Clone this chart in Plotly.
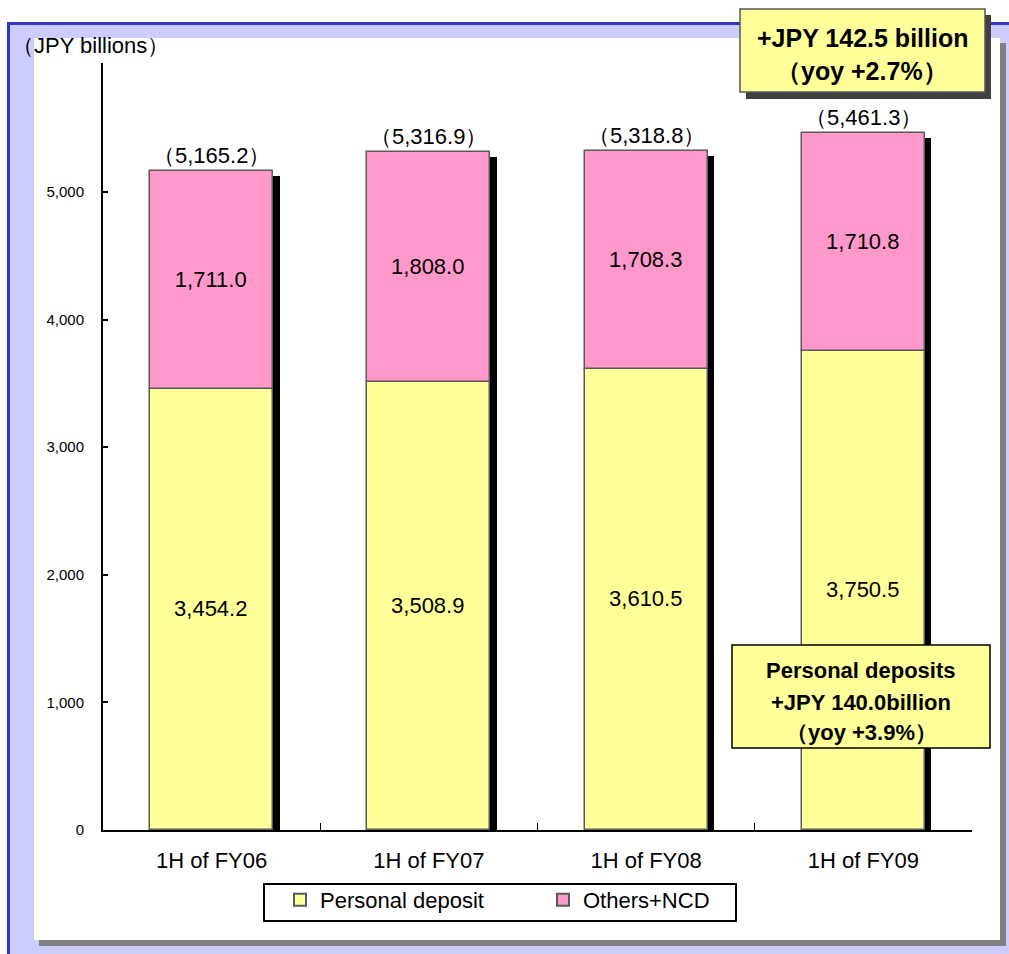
import plotly.graph_objects as go

# ---- data (JPY billions) ----
periods = ["1H of FY06", "1H of FY07", "1H of FY08", "1H of FY09"]
personal_deposit = [3454.2, 3508.9, 3610.5, 3750.5]
others_ncd = [1711.0, 1808.0, 1708.3, 1710.8]
totals = [5165.2, 5316.9, 5318.8, 5461.3]
y_ticks = [0, 1000, 2000, 3000, 4000, 5000]

headline_lines = ["+JPY 142.5 billion", "（yoy +2.7%）"]
personal_lines = ["Personal deposits", "+JPY 140.0billion", "（yoy +3.9%）"]

# ---- layout geometry (pixels) ----
W, H = 1009, 954
L, R, T, B = 103, 972, 63, 830          # plot area edges
Y_MAX = 6011
BAR_W = 0.566                            # bar width in category units
SHADOW_DX = 6.5 / (R - L) * 4            # shadow shift, category units
SHADOW_DY = 5 * Y_MAX / (B - T)          # shadow drop, data units

FONT = "Liberation Sans, Arial, sans-serif"
YELLOW = "#FFFF99"
PINK = "#FF99CC"
EDGE = "#5a5a5a"


def px(x):
    return (x - L) / (R - L)


def py(y):
    return (B - y) / (B - T)


def rect(x0, y0, x1, y1, fill, line_color=None, line_width=0, layer="below"):
    return dict(
        type="rect", xref="paper", yref="paper", layer=layer,
        x0=px(x0), x1=px(x1), y0=py(y0), y1=py(y1),
        fillcolor=fill,
        line=dict(color=line_color or fill, width=line_width),
    )


def label(x, y, text, size, bold=False):
    return dict(
        x=px(x), y=py(y), xref="paper", yref="paper",
        xanchor="center", yanchor="middle",
        text=f"<b>{text}</b>" if bold else text, showarrow=False,
        font=dict(family=FONT, size=size, color="black"),
    )


fig = go.Figure()

# drop shadow behind each stacked bar
fig.add_trace(go.Bar(
    x=periods, y=totals, base=[-SHADOW_DY] * len(totals),
    width=BAR_W, offset=-BAR_W / 2 + SHADOW_DX,
    marker=dict(color="black", line=dict(width=0)),
    showlegend=False, hoverinfo="skip",
))

fig.add_trace(go.Bar(
    name="Personal deposit", x=periods, y=personal_deposit,
    base=[0] * len(personal_deposit), width=BAR_W,
    marker=dict(color=YELLOW, line=dict(color=EDGE, width=1.5)),
    texttemplate="%{y:,.1f}", textposition="inside",
    insidetextanchor="middle", textangle=0,
    textfont=dict(family=FONT, size=22, color="black"),
))

fig.add_trace(go.Bar(
    name="Others+NCD", x=periods, y=others_ncd,
    base=personal_deposit, width=BAR_W,
    marker=dict(color=PINK, line=dict(color=EDGE, width=1.5)),
    texttemplate="%{y:,.1f}", textposition="inside",
    insidetextanchor="middle", textangle=0,
    textfont=dict(family=FONT, size=22, color="black"),
))

shapes = [
    # lavender frame with blue top/left rule
    rect(7, 22, W + 5, H + 5, "#CCCCFF"),
    rect(7, 22, 10, H + 5, "#3333CC"),
    rect(7, 22, W + 5, 25, "#3333CC"),
    # white panel and its grey shadow
    rect(39, 43, 1006, 946, "#808080"),
    rect(34, 38, 1000, 940, "white"),
    # legend frame
    rect(264, 884, 736, 921, "white", "black", 2),
    # headline call-out box with shadow
    rect(746, 15, 991, 99, "#404040", layer="above"),
    rect(740, 9, 985, 92, YELLOW, "#555555", 1.5, layer="above"),
    # personal deposit call-out box
    rect(732, 645, 990, 748, YELLOW, "black", 1.5, layer="above"),
]

annotations = []
# totals above each bar
for p, t in zip(periods, totals):
    annotations.append(dict(
        x=p, y=t, xref="x", yref="y", xanchor="center", yanchor="bottom",
        yshift=1, text=f"（{t:,.1f}）", showarrow=False,
        font=dict(family=FONT, size=22, color="black"),
    ))

# unit label
annotations.append(label(90, 46, "（JPY billions）", 22))

for line, yc in zip(headline_lines, [38, 71]):
    annotations.append(label(862, yc, line, 25, bold=True))

for line, yc in zip(personal_lines, [670, 702, 732]):
    annotations.append(label(861, yc, line, 22, bold=True))

fig.update_layout(
    width=W, height=H,
    margin=dict(l=L, r=W - R, t=T, b=H - B, pad=0),
    paper_bgcolor="white", plot_bgcolor="rgba(0,0,0,0)",
    barmode="overlay", bargap=0,
    font=dict(family=FONT, color="black"),
    shapes=shapes, annotations=annotations,
    showlegend=True,
    legend=dict(
        orientation="h", x=px(280), y=py(879),
        xanchor="left", yanchor="top",
        bgcolor="rgba(0,0,0,0)", borderwidth=0,
        font=dict(family=FONT, size=22, color="black"),
        entrywidth=218, entrywidthmode="pixels",
        itemsizing="constant",
    ),
)

fig.update_xaxes(
    type="category", categoryorder="array", categoryarray=periods,
    showline=True, linecolor="black", linewidth=1.5,
    ticks="inside", tickson="boundaries", ticklen=7, tickcolor="black",
    tickfont=dict(family=FONT, size=22, color="black"),
    ticklabelstandoff=10, showgrid=False, zeroline=False,
)

fig.update_yaxes(
    range=[0, Y_MAX], tickvals=y_ticks, tickformat=",d",
    showline=True, linecolor="black", linewidth=2,
    ticks="inside", ticklen=5, tickwidth=2, tickcolor="black",
    tickfont=dict(family=FONT, size=15, color="black"),
    ticklabelstandoff=14, showgrid=False, zeroline=False,
)

fig.write_html("out.html")
